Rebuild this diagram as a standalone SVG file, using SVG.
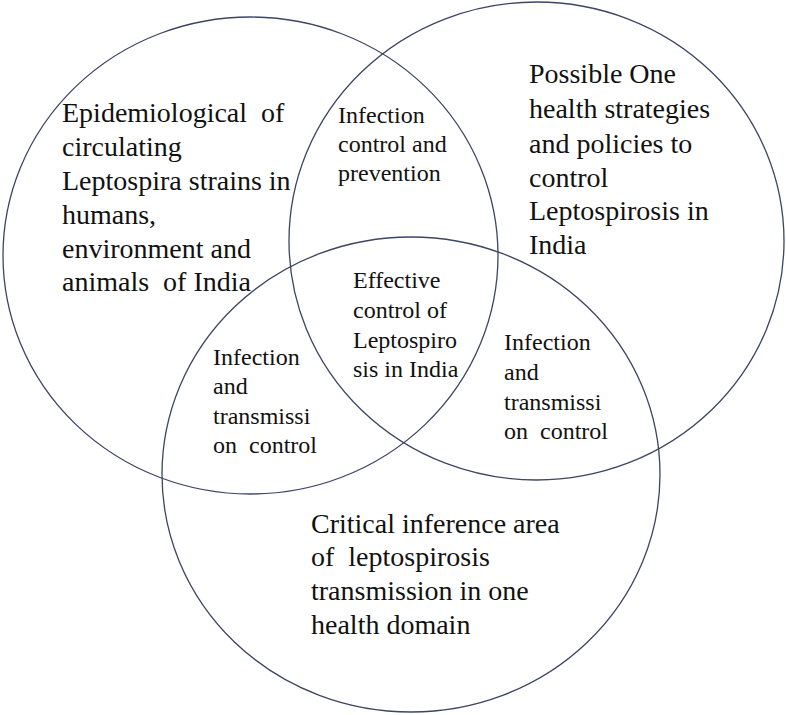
<svg xmlns="http://www.w3.org/2000/svg" width="786" height="715" viewBox="0 0 786 715">
<style>
.c{fill:none;stroke:#3c4563;stroke-width:1.3}
text{fill:#111;white-space:pre}
.big{font-size:28px}
.sm{font-size:24px}
</style>
<rect width="786" height="715" fill="#fff"/>
<g id="connectors">
<ellipse id="left-circle" class="c" cx="250.5" cy="255.5" rx="247.5" ry="238.5"/>
<ellipse id="right-circle" class="c" cx="536.5" cy="241" rx="247.5" ry="239"/>
<ellipse id="bottom-circle" class="c" cx="411" cy="474.5" rx="249" ry="237.5"/>
</g>
<g font-family="'Liberation Serif', 'DejaVu Serif', serif">
<g id="node-left">
<text class="big" x="62" y="122">Epidemiological  of</text>
<text class="big" x="62" y="156">circulating</text>
<text class="big" x="62" y="190">Leptospira strains in</text>
<text class="big" x="62" y="224">humans,</text>
<text class="big" x="62" y="258">environment and</text>
<text class="big" x="62" y="291">animals  of India</text>
</g>
<g id="node-right">
<text class="big" x="529" y="83">Possible One</text>
<text class="big" x="529" y="118">health strategies</text>
<text class="big" x="529" y="153">and policies to</text>
<text class="big" x="529" y="187">control</text>
<text class="big" x="529" y="220">Leptospirosis in</text>
<text class="big" x="529" y="254">India</text>
</g>
<g id="node-bottom">
<text class="big" x="311" y="533">Critical inference area</text>
<text class="big" x="311" y="566">of  leptospirosis</text>
<text class="big" x="311" y="600">transmission in one</text>
<text class="big" x="311" y="634">health domain</text>
</g>
<g id="node-top-middle">
<text class="sm" x="338" y="123">Infection</text>
<text class="sm" x="338" y="152">control and</text>
<text class="sm" x="338" y="181">prevention</text>
</g>
<g id="node-center">
<text class="sm" x="353" y="288">Effective</text>
<text class="sm" x="353" y="318">control of</text>
<text class="sm" x="353" y="348">Leptospiro</text>
<text class="sm" x="353" y="377">sis in India</text>
</g>
<g id="node-lower-left">
<text class="sm" x="213" y="365">Infection</text>
<text class="sm" x="213" y="394">and</text>
<text class="sm" x="213" y="424">transmissi</text>
<text class="sm" x="213" y="453">on  control</text>
</g>
<g id="node-lower-right">
<text class="sm" x="504" y="350">Infection</text>
<text class="sm" x="504" y="380">and</text>
<text class="sm" x="504" y="410">transmissi</text>
<text class="sm" x="504" y="439">on  control</text>
</g>
</g>
</svg>
